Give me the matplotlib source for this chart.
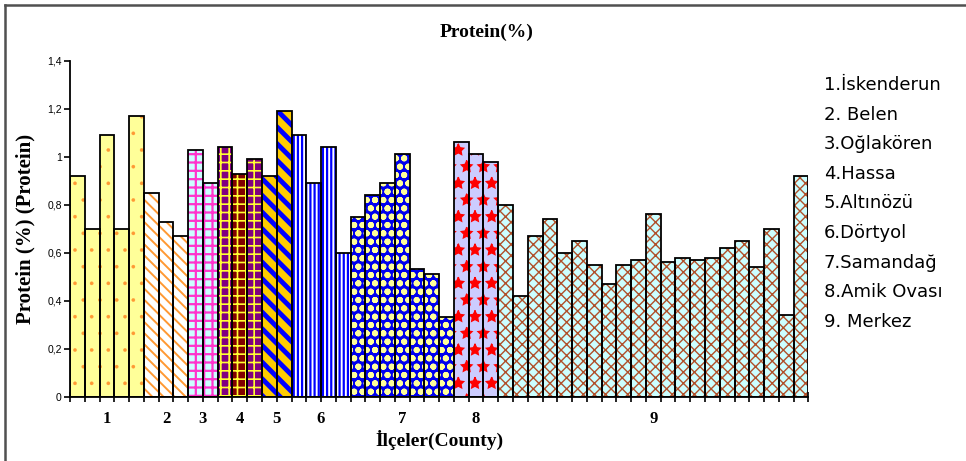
import matplotlib

matplotlib.use("Agg")
import matplotlib.pyplot as plt
from matplotlib.lines import Line2D
import numpy as np

# protein per sample, grouped by county
counties = ["1.İskenderun", "2. Belen", "3.Oğlakören", "4.Hassa", "5.Altınözü",
            "6.Dörtyol", "7.Samandağ", "8.Amik Ovası", "9. Merkez"]
group_labels = ["1", "2", "3", "4", "5", "6", "7", "8", "9"]
iskenderun = [0.92, 0.70, 1.09, 0.70, 1.17]
belen = [0.85, 0.73, 0.67]
oglakoren = [1.03, 0.89]
hassa = [1.04, 0.93, 0.99]
altinozu = [0.92, 1.19]
dortyol = [1.09, 0.89, 1.04, 0.60]
samandag = [0.75, 0.84, 0.89, 1.01, 0.53, 0.51, 0.33]
amik = [1.06, 1.01, 0.98]
merkez = [0.80, 0.42, 0.67, 0.74, 0.60, 0.65, 0.55, 0.47, 0.55, 0.57, 0.76,
          0.56, 0.58, 0.57, 0.58, 0.62, 0.65, 0.54, 0.70, 0.34, 0.92]
groups = [iskenderun, belen, oglakoren, hassa, altinozu, dortyol, samandag, amik, merkez]

yticks = [0, 0.2, 0.4, 0.6, 0.8, 1.0, 1.2, 1.4]
ytick_labels = ["0", "0,2", "0,4", "0,6", "0,8", "1", "1,2", "1,4"]

# fill: (face colours, hatch, hatch colour, hatch width)
styles = [
    (["#ffff99"], ".", "#ff9933", 0.2),
    (["#ffffff"], "\\\\\\", "#ff9933", 1.4),
    (["#ccffff"], "++", "#ff33cc", 1.6),
    (["#800080", "#800000", "#800080"], "++", "#ffff33", 1.2),
    (["#ffcc00"], "\\\\", "#0000ff", 3.5),
    (["#ffffff"], "||||", "#0000ff", 1.6),
    (["#0000ee"], "oo", "#ffff99", 2.0),
    (["#ccccff"], "*", "#ff0000", 1.0),
    (["#ccffff"], "xxx", "#b0502a", 1.0),
]

serif = "Liberation Serif"
sans = "Liberation Sans"

fig = plt.figure(figsize=(9.66, 4.61), dpi=100)
ax = fig.add_axes([0.0725, 0.1395, 0.7643, 0.7288])

pos = 0
centers = []
for vals, (faces, hatch, hcol, hlw) in zip(groups, styles):
    x = np.arange(pos, pos + len(vals))
    fc = [faces[i % len(faces)] for i in range(len(vals))]
    bars = ax.bar(x, vals, width=1.0, color=fc, edgecolor=hcol, linewidth=0,
                  hatch=hatch, zorder=2)
    for b in bars:
        if hasattr(b, "set_hatch_linewidth"):
            b.set_hatch_linewidth(hlw)
    ax.bar(x, vals, width=1.0, fill=False, edgecolor="black", linewidth=1.3, zorder=3)
    centers.append(pos + (len(vals) - 1) / 2)
    pos += len(vals)

ax.set_xlim(-0.5, pos - 0.5)
ax.set_ylim(0, 1.4)
ax.set_yticks(yticks, ytick_labels, fontfamily=sans, fontsize=7.5)
ax.set_xticks(np.arange(-0.5, pos, 1.0), [])
ax.tick_params(axis="x", direction="inout", length=7, width=1.2)
ax.tick_params(axis="y", direction="out", length=4, width=1.2, pad=2)
for side in ("top", "right"):
    ax.spines[side].set_visible(False)
for side in ("left", "bottom"):
    ax.spines[side].set_linewidth(1.3)

trans = ax.get_xaxis_transform()
for c, lab in zip(centers, group_labels):
    ax.text(c, -0.065, lab, transform=trans, ha="center", va="center",
            fontfamily=serif, fontweight="bold", fontsize=12)

ax.set_xlabel("İlçeler(County)", fontfamily=serif, fontweight="bold", fontsize=14,
              labelpad=17)
ax.set_ylabel("Protein (%) (Protein)", fontfamily=serif, fontweight="bold", fontsize=15,
              labelpad=8)
fig.text(0.504, 0.93, "Protein(%)", ha="center", va="center",
         fontfamily=serif, fontweight="bold", fontsize=14)

for i, name in enumerate(counties):
    fig.text(0.853, 1 - (85 + i * 29.6) / 461, name, ha="left", va="center",
             fontfamily="DejaVu Sans", fontsize=13)

# outer chart frame (only left and top edges fall inside the canvas)
fig.add_artist(Line2D([5 / 966, 5 / 966], [0, 1 - 5 / 461], color="#505050", linewidth=1.8))
fig.add_artist(Line2D([5 / 966, 1], [1 - 5 / 461, 1 - 5 / 461], color="#505050", linewidth=1.8))

fig.savefig("out.png", dpi=100)
